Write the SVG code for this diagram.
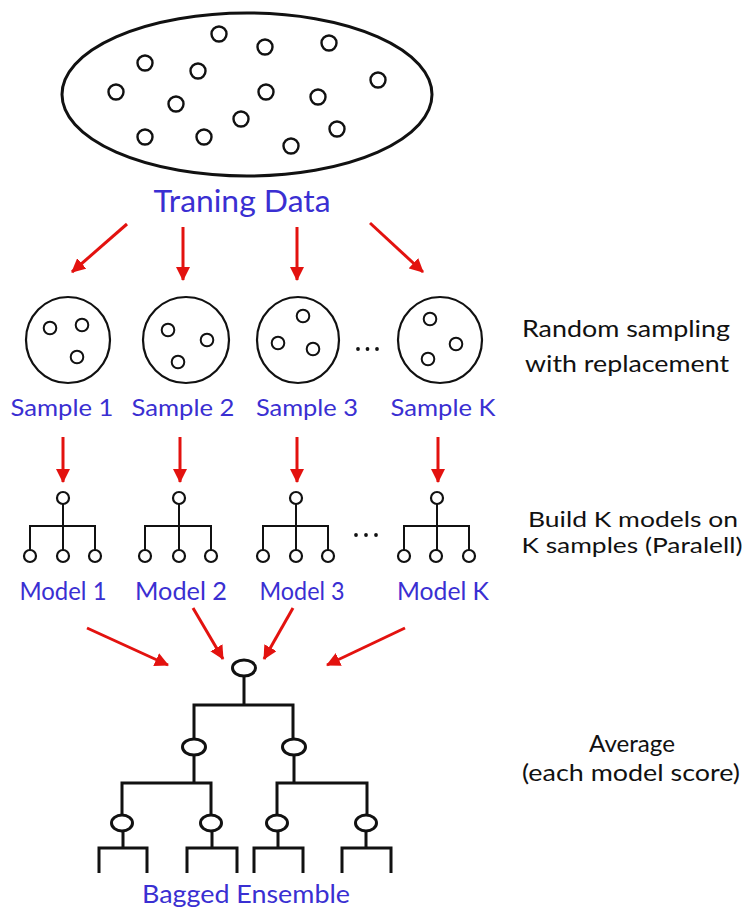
<svg xmlns="http://www.w3.org/2000/svg" width="746" height="912" viewBox="0 0 746 912">
  <defs>
    <marker id="head" viewBox="0 0 14 14" refX="13" refY="7" markerWidth="14" markerHeight="14" markerUnits="userSpaceOnUse" orient="auto">
      <path d="M0,0 L14,7 L0,14 z" fill="#e3120f"/>
    </marker>
  </defs>
  <style>
    .bg { fill: #ffffff; }
    .pool { fill: none; stroke: #111; stroke-width: 3; }
    .dot { fill: none; stroke: #111; stroke-width: 2.4; }
    .bag { fill: none; stroke: #111; stroke-width: 2.2; }
    .pt { fill: none; stroke: #111; stroke-width: 2; }
    .tree { fill: none; stroke: #111; stroke-width: 2; }
    .node { fill: #fff; stroke: #111; stroke-width: 2.2; }
    .ens { fill: none; stroke: #111; stroke-width: 3; }
    .enode { fill: #fff; stroke: #111; stroke-width: 3; }
    .arrow { fill: none; stroke: #e3120f; stroke-width: 3; marker-end: url(#head); }
    .label { font-family: Lato, "Open Sans", sans-serif; fill: #3a2fd2; text-anchor: middle; }
    .note { font-family: Lato, "Open Sans", sans-serif; fill: #111; text-anchor: middle; font-size: 24px; }
    .note.tight { font-size: 22px; }
    .ell { fill: #111; }
  </style>
  <rect class="bg" x="0" y="0" width="746" height="912"/>

  <!-- training data pool -->
  <g id="training-data">
    <ellipse class="pool" cx="247" cy="94.5" rx="185" ry="81.5"/>
    <circle class="dot" cx="219" cy="34" r="7.5"/>
    <circle class="dot" cx="265" cy="47" r="7.5"/>
    <circle class="dot" cx="329" cy="43" r="7.5"/>
    <circle class="dot" cx="145" cy="63" r="7.5"/>
    <circle class="dot" cx="198" cy="71" r="7.5"/>
    <circle class="dot" cx="378" cy="80" r="7.5"/>
    <circle class="dot" cx="116" cy="92" r="7.5"/>
    <circle class="dot" cx="266" cy="92" r="7.5"/>
    <circle class="dot" cx="318" cy="97" r="7.5"/>
    <circle class="dot" cx="176" cy="104" r="7.5"/>
    <circle class="dot" cx="241" cy="119" r="7.5"/>
    <circle class="dot" cx="337" cy="129" r="7.5"/>
    <circle class="dot" cx="145" cy="137" r="7.5"/>
    <circle class="dot" cx="204" cy="137" r="7.5"/>
    <circle class="dot" cx="291" cy="146" r="7.5"/>
    <text class="label" x="242" y="212" font-size="31" textLength="177" lengthAdjust="spacingAndGlyphs">Traning Data</text>
  </g>

  <!-- bootstrap samples -->
  <g id="sample-1">
    <ellipse class="bag" cx="68" cy="340" rx="42" ry="43"/>
    <circle class="pt" cx="50" cy="328" r="6.3"/>
    <circle class="pt" cx="82" cy="325" r="6.3"/>
    <circle class="pt" cx="77" cy="357" r="6.3"/>
    <text class="label" x="62" y="416" font-size="24" textLength="103" lengthAdjust="spacingAndGlyphs">Sample 1</text>
  </g>
  <g id="sample-2">
    <ellipse class="bag" cx="186" cy="340" rx="43" ry="43"/>
    <circle class="pt" cx="168" cy="330" r="6.3"/>
    <circle class="pt" cx="207" cy="340" r="6.3"/>
    <circle class="pt" cx="178" cy="362" r="6.3"/>
    <text class="label" x="183" y="416" font-size="24" textLength="103" lengthAdjust="spacingAndGlyphs">Sample 2</text>
  </g>
  <g id="sample-3">
    <ellipse class="bag" cx="298" cy="340" rx="41" ry="43"/>
    <circle class="pt" cx="303" cy="316" r="6.3"/>
    <circle class="pt" cx="278" cy="343" r="6.3"/>
    <circle class="pt" cx="313" cy="349" r="6.3"/>
    <text class="label" x="307" y="416" font-size="24" textLength="102" lengthAdjust="spacingAndGlyphs">Sample 3</text>
  </g>
  <g id="sample-gap">
    <circle class="ell" cx="358" cy="349" r="1.9"/>
    <circle class="ell" cx="367.5" cy="349" r="1.9"/>
    <circle class="ell" cx="377" cy="349" r="1.9"/>
  </g>
  <g id="sample-k">
    <ellipse class="bag" cx="440" cy="340" rx="42" ry="43"/>
    <circle class="pt" cx="430" cy="319" r="6.3"/>
    <circle class="pt" cx="456" cy="344" r="6.3"/>
    <circle class="pt" cx="428" cy="359" r="6.3"/>
    <text class="label" x="443" y="416" font-size="24" textLength="105" lengthAdjust="spacingAndGlyphs">Sample K</text>
  </g>
  <g id="note-sampling">
    <text class="note" x="626" y="337" textLength="208" lengthAdjust="spacingAndGlyphs">Random sampling</text>
    <text class="note" x="627" y="372" textLength="204" lengthAdjust="spacingAndGlyphs">with replacement</text>
  </g>

  <!-- base models -->
  <g id="model-1">
    <path class="tree" d="M63,504 V550 M30,550 V526 H95 V550"/>
    <circle class="node" cx="63" cy="498" r="6"/>
    <circle class="node" cx="30" cy="556" r="6"/>
    <circle class="node" cx="63" cy="556" r="6"/>
    <circle class="node" cx="95" cy="556" r="6"/>
    <text class="label" x="63" y="600" font-size="25" textLength="87" lengthAdjust="spacingAndGlyphs">Model 1</text>
  </g>
  <g id="model-2">
    <path class="tree" d="M179,504 V550 M145,550 V526 H211 V550"/>
    <circle class="node" cx="179" cy="498" r="6"/>
    <circle class="node" cx="145" cy="556" r="6"/>
    <circle class="node" cx="179" cy="556" r="6"/>
    <circle class="node" cx="211" cy="556" r="6"/>
    <text class="label" x="181" y="600" font-size="25" textLength="92" lengthAdjust="spacingAndGlyphs">Model 2</text>
  </g>
  <g id="model-3">
    <path class="tree" d="M296,504 V550 M263,550 V526 H328 V550"/>
    <circle class="node" cx="296" cy="498" r="6"/>
    <circle class="node" cx="263" cy="556" r="6"/>
    <circle class="node" cx="296" cy="556" r="6"/>
    <circle class="node" cx="328" cy="556" r="6"/>
    <text class="label" x="302" y="600" font-size="25" textLength="85" lengthAdjust="spacingAndGlyphs">Model 3</text>
  </g>
  <g id="model-gap">
    <circle class="ell" cx="356" cy="535" r="1.9"/>
    <circle class="ell" cx="366" cy="535" r="1.9"/>
    <circle class="ell" cx="376" cy="535" r="1.9"/>
  </g>
  <g id="model-k">
    <path class="tree" d="M437,504 V550 M404,550 V526 H469 V550"/>
    <circle class="node" cx="437" cy="498" r="6"/>
    <circle class="node" cx="404" cy="556" r="6"/>
    <circle class="node" cx="436" cy="556" r="6"/>
    <circle class="node" cx="469" cy="556" r="6"/>
    <text class="label" x="443" y="600" font-size="25" textLength="92" lengthAdjust="spacingAndGlyphs">Model K</text>
  </g>
  <g id="note-models">
    <text class="note tight" x="633" y="527" textLength="210" lengthAdjust="spacingAndGlyphs">Build K models on</text>
    <text class="note tight" x="632" y="553" textLength="221" lengthAdjust="spacingAndGlyphs">K samples (Paralell)</text>
  </g>

  <!-- aggregated ensemble tree -->
  <g id="bagged-ensemble">
    <path class="ens" d="M244,676 V705 M194,739 V705 H293 V739 M194,755 V783 M122,815 V783 H211 V815 M294,755 V783 M277,815 V783 H367 V815 M123,831 V848 M99,873 V848 H147 V873 M212,831 V848 M187,873 V848 H237 V873 M278,831 V848 M254,873 V848 H303 V873 M366,831 V848 M342,873 V848 H391 V873"/>
    <ellipse class="enode" cx="244" cy="668" rx="11.5" ry="8"/>
    <ellipse class="enode" cx="194" cy="747" rx="11.5" ry="8"/>
    <ellipse class="enode" cx="294" cy="747" rx="11.5" ry="8"/>
    <ellipse class="enode" cx="122" cy="823" rx="10.5" ry="8"/>
    <ellipse class="enode" cx="211" cy="823" rx="10.5" ry="8"/>
    <ellipse class="enode" cx="277" cy="823" rx="10.5" ry="8"/>
    <ellipse class="enode" cx="366" cy="823" rx="10.5" ry="8"/>
    <text class="label" x="246" y="903" font-size="25" textLength="208" lengthAdjust="spacingAndGlyphs">Bagged Ensemble</text>
  </g>
  <g id="note-average">
    <text class="note" x="632" y="752" textLength="86" lengthAdjust="spacingAndGlyphs">Average</text>
    <text class="note" x="631" y="781" textLength="218" lengthAdjust="spacingAndGlyphs">(each model score)</text>
  </g>

  <!-- connectors -->
  <g id="connectors">
    <line class="arrow" x1="127" y1="224" x2="72" y2="272"/>
    <line class="arrow" x1="183" y1="227" x2="183" y2="280"/>
    <line class="arrow" x1="297" y1="227" x2="297" y2="280"/>
    <line class="arrow" x1="370" y1="223" x2="423" y2="272"/>

    <line class="arrow" x1="63" y1="437" x2="63" y2="482"/>
    <line class="arrow" x1="180" y1="437" x2="180" y2="482"/>
    <line class="arrow" x1="297" y1="437" x2="297" y2="482"/>
    <line class="arrow" x1="438" y1="437" x2="438" y2="482"/>

    <line class="arrow" x1="87" y1="628" x2="168" y2="665"/>
    <line class="arrow" x1="193" y1="608" x2="223" y2="659"/>
    <line class="arrow" x1="293" y1="608" x2="264" y2="659"/>
    <line class="arrow" x1="405" y1="628" x2="327" y2="665"/>
  </g>
</svg>
